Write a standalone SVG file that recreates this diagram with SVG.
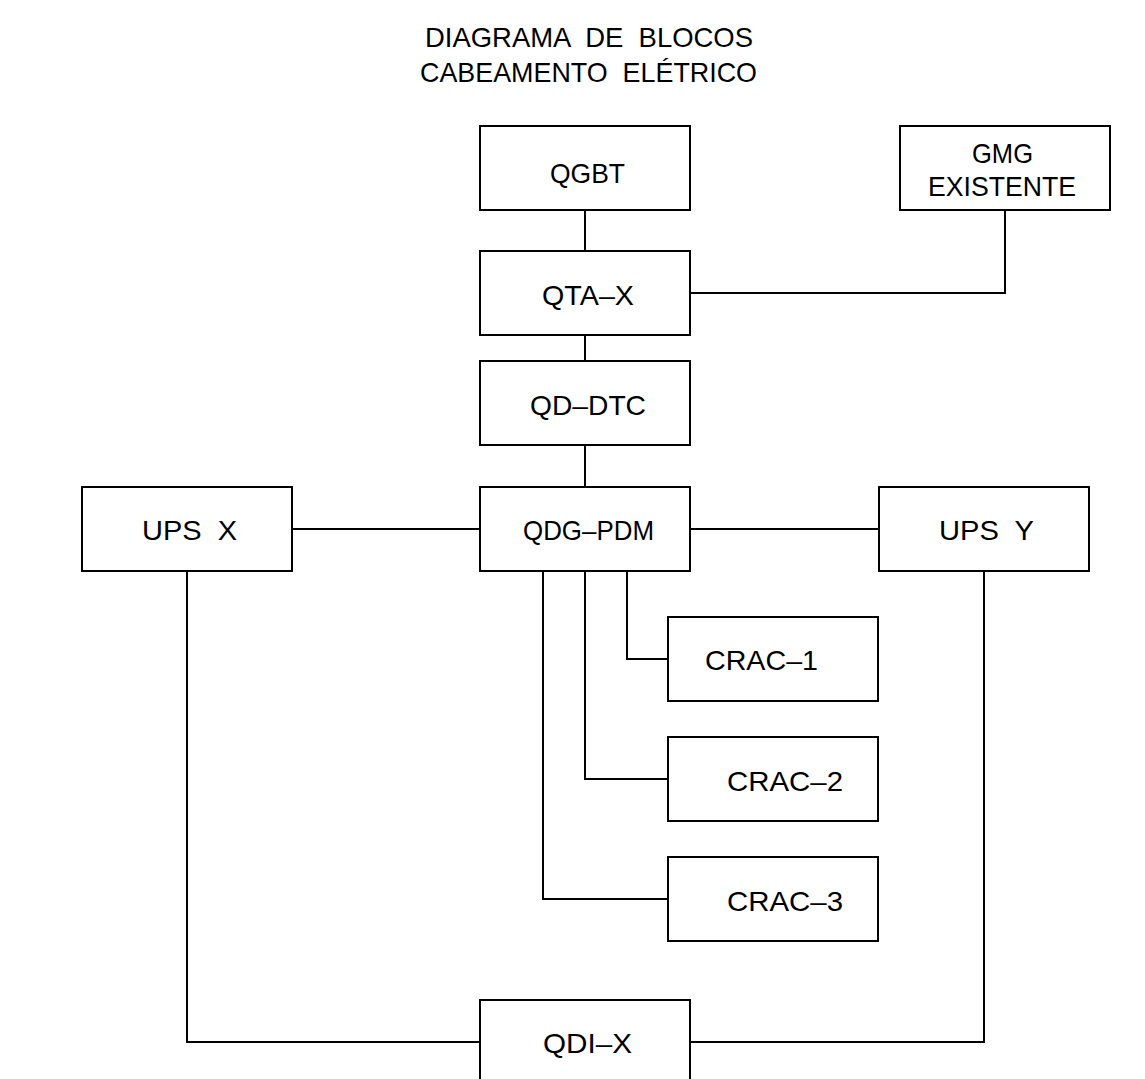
<svg xmlns="http://www.w3.org/2000/svg" width="1145" height="1079" viewBox="0 0 1145 1079">
<style>
.box{fill:#fff;stroke:#000;stroke-width:2}
.ln{fill:none;stroke:#000;stroke-width:2}
text{font-family:"Liberation Sans",Arial,sans-serif;font-size:28px;fill:#000;white-space:pre}
</style>
<rect width="1145" height="1079" fill="#fff"/>
<g id="title">
<text x="425" y="47" textLength="328" lengthAdjust="spacingAndGlyphs">DIAGRAMA  DE  BLOCOS</text>
<text x="420" y="82" textLength="337" lengthAdjust="spacingAndGlyphs">CABEAMENTO  ELÉTRICO</text>
</g>
<g id="connectors">
<path class="ln" d="M585 210V251"/>
<path class="ln" d="M690 293H1005V210"/>
<path class="ln" d="M585 335V361"/>
<path class="ln" d="M585 445V487"/>
<path class="ln" d="M292 529H480"/>
<path class="ln" d="M690 529H879"/>
<path class="ln" d="M627 571V659H668"/>
<path class="ln" d="M585 571V779H668"/>
<path class="ln" d="M543 571V899H668"/>
<path class="ln" d="M187 571V1042H480"/>
<path class="ln" d="M984 571V1042H690"/>
</g>
<g id="qgbt"><rect class="box" x="480" y="126" width="210" height="84"/><text x="550" y="183" textLength="75" lengthAdjust="spacingAndGlyphs">QGBT</text></g>
<g id="gmg"><rect class="box" x="900" y="126" width="210" height="84"/><text x="972" y="163" textLength="61" lengthAdjust="spacingAndGlyphs">GMG</text><text x="928" y="196" textLength="148" lengthAdjust="spacingAndGlyphs">EXISTENTE</text></g>
<g id="qta-x"><rect class="box" x="480" y="251" width="210" height="84"/><text x="542" y="305" textLength="92" lengthAdjust="spacingAndGlyphs">QTA–X</text></g>
<g id="qd-dtc"><rect class="box" x="480" y="361" width="210" height="84"/><text x="530" y="415" textLength="116" lengthAdjust="spacingAndGlyphs">QD–DTC</text></g>
<g id="qdg-pdm"><rect class="box" x="480" y="487" width="210" height="84"/><text x="523" y="540" textLength="131" lengthAdjust="spacingAndGlyphs">QDG–PDM</text></g>
<g id="ups-x"><rect class="box" x="82" y="487" width="210" height="84"/><text x="142" y="540" textLength="95" lengthAdjust="spacingAndGlyphs">UPS  X</text></g>
<g id="ups-y"><rect class="box" x="879" y="487" width="210" height="84"/><text x="939" y="540" textLength="95" lengthAdjust="spacingAndGlyphs">UPS  Y</text></g>
<g id="crac-1"><rect class="box" x="668" y="617" width="210" height="84"/><text x="705" y="670" textLength="113" lengthAdjust="spacingAndGlyphs">CRAC–1</text></g>
<g id="crac-2"><rect class="box" x="668" y="737" width="210" height="84"/><text x="727" y="791" textLength="116" lengthAdjust="spacingAndGlyphs">CRAC–2</text></g>
<g id="crac-3"><rect class="box" x="668" y="857" width="210" height="84"/><text x="727" y="911" textLength="116" lengthAdjust="spacingAndGlyphs">CRAC–3</text></g>
<g id="qdi-x"><rect class="box" x="480" y="1000" width="210" height="100"/><text x="543" y="1053" textLength="89" lengthAdjust="spacingAndGlyphs">QDI–X</text></g>
</svg>
